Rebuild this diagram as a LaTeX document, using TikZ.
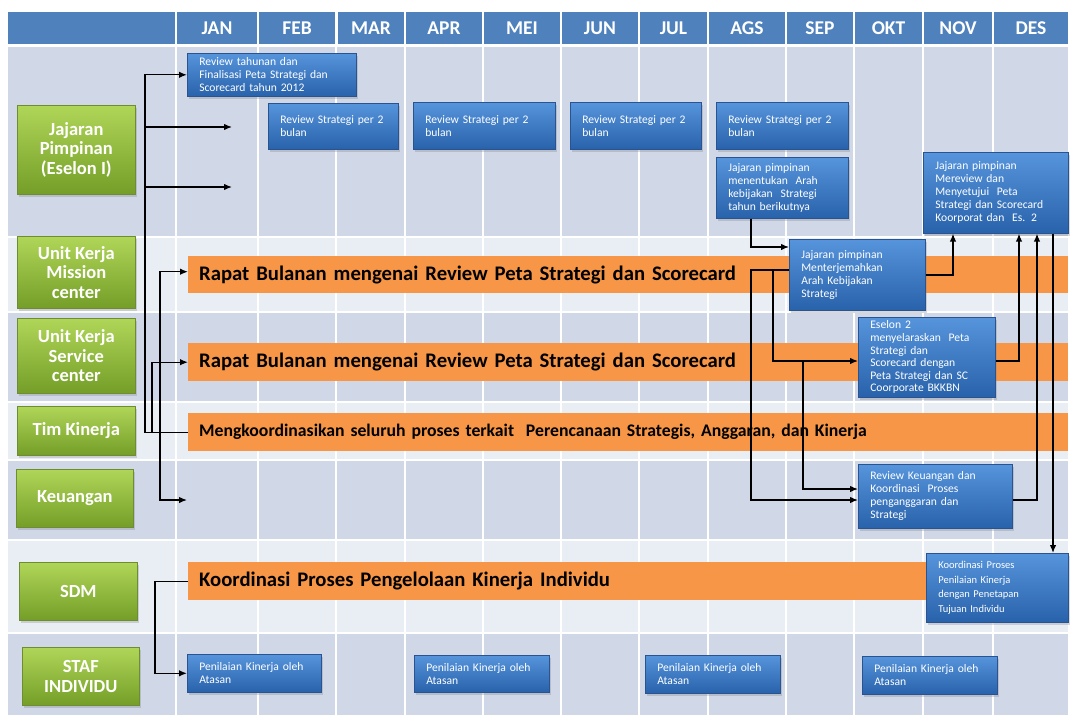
\documentclass[tikz,border=0pt]{standalone}
\usepackage{fontspec}
\setmainfont{Carlito}
\usetikzlibrary{arrows.meta,shadows}
\definecolor{hdrblue}{RGB}{79,129,189}
\definecolor{rowdark}{RGB}{208,216,232}
\definecolor{rowlight}{RGB}{233,237,244}
\definecolor{barorange}{RGB}{247,150,70}
\definecolor{gtop}{RGB}{176,214,88}
\definecolor{gbot}{RGB}{116,158,40}
\definecolor{gedge}{RGB}{110,140,50}
\definecolor{btop}{RGB}{86,148,220}
\definecolor{bbot}{RGB}{40,98,170}
\definecolor{bedge}{RGB}{42,84,145}

\tikzset{
  lane/.style={draw=gedge, line width=0.6pt, top color=gtop, bottom color=gbot,
    drop shadow={shadow xshift=2pt, shadow yshift=-2.5pt, opacity=0.3},
    text=white, font=\bfseries\fontsize{18.5}{19.5}\selectfont, align=center,
    anchor=north west, inner sep=0pt},
  task/.style={draw=bedge, line width=0.6pt, top color=btop, bottom color=bbot,
    drop shadow={shadow xshift=2pt, shadow yshift=-2.5pt, opacity=0.3},
    text=white, font=\fontsize{11.6}{13}\selectfont, align=left,
    anchor=north west, inner xsep=12pt, inner ysep=1pt},
  band/.style={fill=barorange, anchor=north west, inner xsep=11pt, inner ysep=0pt,
    font=\bfseries\fontsize{20.7}{22}\selectfont, align=left},
  month/.style={text=white, font=\bfseries\fontsize{19.5}{20}\selectfont},
  link/.style={line width=1.3pt},
  arr/.style={link, -{Latex[length=8pt,width=6.5pt]}},
  arrboth/.style={link, {Latex[length=8pt,width=6.5pt]}-{Latex[length=8pt,width=6.5pt]}},
}

\begin{document}
\begin{tikzpicture}[x=1pt,y=-1pt]
\useasboundingbox (0,0) rectangle (1070,715);

% row bands
\fill[rowdark]  (8,47)  rectangle (1068,237);
\fill[rowlight] (8,237) rectangle (1068,312);
\fill[rowdark]  (8,312) rectangle (1068,402);
\fill[rowlight] (8,402) rectangle (1068,460);
\fill[rowdark]  (8,460) rectangle (1068,540);
\fill[rowlight] (8,540) rectangle (1068,633);
\fill[rowdark]  (8,633) rectangle (1068,715);

% grid lines
\foreach \x in {176,258,336,405,483,561,639,708,786,854,923,993}
  \draw[white, line width=2pt] (\x,47) -- (\x,715);
\foreach \y in {237,312,402,460,540,633}
  \draw[white, line width=2pt] (8,\y) -- (1068,\y);

% header
\fill[hdrblue] (8,12) rectangle (175,44);
\foreach \a/\b/\m in {177/257/JAN,259/335/FEB,338/404/MAR,406/482/APR,484/560/MEI,
  562/638/JUN,640/707/JUL,709/785/AGS,787/853/SEP,855/922/OKT,924/992/NOV,994/1068/DES}{
  \fill[hdrblue] (\a,12) rectangle (\b,44);
  \node[month] (m\m) at ({(\a+\b)/2},28) {\m};
}

% lanes
\node[lane, minimum width=118pt, minimum height=89pt] (gJaj) at (17,105) {Jajaran\\Pimpinan\\(Eselon I)};
\node[lane, minimum width=118pt, minimum height=72pt] (gMis) at (17,236) {Unit Kerja\\Mission\\center};
\node[lane, minimum width=118pt, minimum height=75pt] (gSer) at (17,318) {Unit Kerja\\Service\\center};
\node[lane, minimum width=118pt, minimum height=49pt] (gTim) at (17,406) {Tim Kinerja};
\node[lane, minimum width=117pt, minimum height=58pt] (gKeu) at (16,469) {Keuangan};
\node[lane, minimum width=118pt, minimum height=58pt] (gSdm) at (19,562) {SDM};
\node[lane, minimum width=117pt, minimum height=58pt] (gStaf) at (22,647) {STAF\\INDIVIDU};

% monthly bands
\node[band, minimum width=880pt, minimum height=37pt, text width=858pt] (oMis) at (188,256)
  {Rapat Bulanan mengenai Review Peta Strategi dan Scorecard};
\node[band, minimum width=880pt, minimum height=38pt, text width=858pt] (oSer) at (188,343)
  {Rapat Bulanan mengenai Review Peta Strategi dan Scorecard};
\node[band, minimum width=880pt, minimum height=38pt, text width=858pt,
  font=\bfseries\fontsize{17.7}{19}\selectfont] (oTim) at (188,413)
  {Mengkoordinasikan seluruh proses terkait\ \ Perencanaan Strategis, Anggaran, dan Kinerja};
\node[band, minimum width=880pt, minimum height=38pt, text width=858pt] (oSdm) at (188,562)
  {Koordinasi Proses Pengelolaan Kinerja Individu};

% tasks
\node[task, minimum width=169pt, minimum height=43pt, text width=145pt] (b1) at (187,53)
  {Review tahunan dan\\Finalisasi Peta Strategi dan\\Scorecard tahun 2012};
\node[task, minimum width=130pt, minimum height=46pt, text width=106pt] (b2) at (268,103)
  {Review Strategi per 2\\bulan};
\node[task, minimum width=142pt, minimum height=47pt, text width=118pt] (b3) at (413,102)
  {Review Strategi per 2\\bulan};
\node[task, minimum width=131pt, minimum height=47pt, text width=107pt] (b4) at (570,102)
  {Review Strategi per 2\\bulan};
\node[task, minimum width=132pt, minimum height=47pt, text width=108pt] (b5) at (716,102)
  {Review Strategi per 2\\bulan};
\node[task, minimum width=132pt, minimum height=61pt, text width=108pt] (b6) at (716,157)
  {Jajaran pimpinan\\menentukan\ \ Arah\\kebijakan\ \ Strategi\\tahun berikutnya};
\node[task, minimum width=145pt, minimum height=81pt, text width=121pt] (b7) at (923,152)
  {Jajaran pimpinan\\Mereview dan\\Menyetujui\ \ Peta\\Strategi dan Scorecard\\Koorporat dan\ \ Es. 2};
\node[task, minimum width=136pt, minimum height=71pt, text width=112pt] (b8) at (789,239)
  {Jajaran pimpinan\\Menterjemahkan\\Arah Kebijakan\\Strategi};
\node[task, minimum width=137pt, minimum height=80pt, text width=113pt,
  font=\fontsize{11.6}{12.6}\selectfont] (b9) at (858,317)
  {Eselon 2\\menyelaraskan\ \ Peta\\Strategi dan\\Scorecard dengan\\Peta Strategi dan SC\\Coorporate BKKBN};
\node[task, minimum width=154pt, minimum height=64pt, text width=130pt] (b10) at (858,464)
  {Review Keuangan dan\\Koordinasi\ \ Proses\\penganggaran dan\\Strategi};
\node[task, minimum width=142pt, minimum height=69pt, text width=118pt,
  font=\fontsize{10.5}{14.5}\selectfont] (b11) at (926,553)
  {Koordinasi Proses\\Penilaian Kinerja\\dengan Penetapan\\Tujuan Individu};
\node[task, minimum width=134pt, minimum height=38pt, text width=110pt] (s1) at (187,654)
  {Penilaian Kinerja oleh\\Atasan};
\node[task, minimum width=135pt, minimum height=37pt, text width=111pt] (s2) at (414,655)
  {Penilaian Kinerja oleh\\Atasan};
\node[task, minimum width=135pt, minimum height=38pt, text width=111pt] (s3) at (645,655)
  {Penilaian Kinerja oleh\\Atasan};
\node[task, minimum width=135pt, minimum height=38pt, text width=111pt] (s4) at (862,656)
  {Penilaian Kinerja oleh\\Atasan};

% helper coordinates for connector routing
\coordinate (tx1) at (145,0);
\coordinate (tx2) at (152,0);
\coordinate (tx3) at (160,0);
\coordinate (tx4) at (155,0);
\coordinate (e1) at (232,127);
\coordinate (e2) at (232,187);
\coordinate (e3) at (187,500);
\coordinate (v751) at (751,0);
\coordinate (v773) at (773,0);
\coordinate (v803) at (803,0);
\coordinate (v953) at (953,0);
\coordinate (v1019) at (1019,0);
\coordinate (v1037) at (1037,0);
\coordinate (v1053) at (1053,0);
\coordinate (h247) at (0,247);
\coordinate (h270) at (0,270);
\coordinate (h275) at (0,275);
\coordinate (h361) at (0,361);
\coordinate (h489) at (0,489);
\coordinate (h500) at (0,500);

% left-side connectors
\draw[arr] (oTim.west) -| (tx1 |- b1.west) -- (b1.west);
\draw[arr] (tx1 |- e1) -- (e1);
\draw[arr] (tx1 |- e2) -- (e2);
\draw[arr] (tx2 |- oTim.west) |- (oSer.west);
\draw[arrboth] ([yshift=3pt]oMis.west) -| (tx3 |- e3) -- (e3);
\draw[arr] (oSdm.west) -| (tx4 |- s1.west) -- (s1.west);

% right-side connectors
\draw[arr] (b6.south -| v751) |- (b8.west |- h247);
\draw[arr] (b8.east |- h275) -| (b7.south -| v953);
\draw[arr] (b8.west |- h270) -| (v751 |- h500) -- (b10.west |- h500);
\draw[arr] (v773 |- h270) |- (b9.west |- h361);
\draw[arr] (v803 |- h361) |- (b10.west |- h489);
\draw[arr] (b9.east |- h361) -| (b7.south -| v1019);
\draw[arr] (b10.east |- h500) -| (b7.south -| v1037);
\draw[arr] (b7.south -| v1053) -- (b11.north -| v1053);
\end{tikzpicture}
\end{document}
